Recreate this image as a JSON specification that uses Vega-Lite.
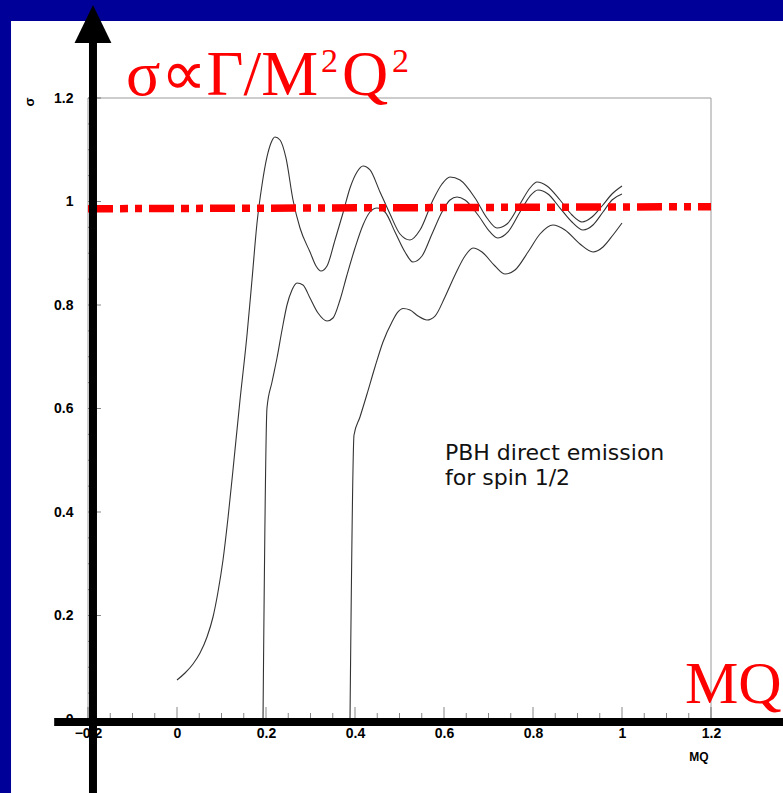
{
  "$schema": "https://vega.github.io/schema/vega-lite/v6.json",
  "width": 623,
  "height": 621,
  "autosize": "none",
  "padding": {"left": 88, "top": 98, "right": 72, "bottom": 74},
  "background": "#ffffff",
  "config": {
    "view": {"stroke": null},
    "axis": {"domain": false, "ticks": false, "grid": false, "labelFont": "Liberation Sans", "labelFontSize": 14, "labelFontWeight": "bold", "labelColor": "#000000", "labelOverlap": false, "labelFlush": false, "format": "~g"},
    "axisX": {"labelPadding": 7, "labelBaseline": "top"},
    "axisY": {"labelPadding": 15}
  },
  "datasets": {
    "curves": [
      {"series": "A", "x": 0.0, "y": 0.0754}, {"series": "A", "x": 0.018, "y": 0.0889}, {"series": "A", "x": 0.036, "y": 0.1063}, {"series": "A", "x": 0.0517, "y": 0.1275}, {"series": "A", "x": 0.0674, "y": 0.1585}, {"series": "A", "x": 0.0809, "y": 0.1971}, {"series": "A", "x": 0.0921, "y": 0.2454}, {"series": "A", "x": 0.1034, "y": 0.3072}, {"series": "A", "x": 0.1146, "y": 0.3884}, {"series": "A", "x": 0.1258, "y": 0.4812}, {"series": "A", "x": 0.1416, "y": 0.6164}, {"series": "A", "x": 0.1573, "y": 0.7420}, {"series": "A", "x": 0.1685, "y": 0.8483}, {"series": "A", "x": 0.1798, "y": 0.9585}, {"series": "A", "x": 0.191, "y": 1.0319}, {"series": "A", "x": 0.2022, "y": 1.086}, {"series": "A", "x": 0.2112, "y": 1.113}, {"series": "A", "x": 0.2202, "y": 1.1246}, {"series": "A", "x": 0.2315, "y": 1.1188}, {"series": "A", "x": 0.2449, "y": 1.0841}, {"series": "A", "x": 0.2607, "y": 1.0029}, {"series": "A", "x": 0.2764, "y": 0.9488}, {"series": "A", "x": 0.2989, "y": 0.9024}, {"series": "A", "x": 0.3124, "y": 0.8754}, {"series": "A", "x": 0.3236, "y": 0.8657}, {"series": "A", "x": 0.3371, "y": 0.8754}, {"series": "A", "x": 0.3551, "y": 0.9256}, {"series": "A", "x": 0.373, "y": 0.9778}, {"series": "A", "x": 0.3888, "y": 1.0261}, {"series": "A", "x": 0.4045, "y": 1.057}, {"series": "A", "x": 0.418, "y": 1.0686}, {"series": "A", "x": 0.4337, "y": 1.0609}, {"series": "A", "x": 0.4562, "y": 1.0184}, {"series": "A", "x": 0.4787, "y": 0.9758}, {"series": "A", "x": 0.5011, "y": 0.9372}, {"series": "A", "x": 0.5236, "y": 0.9256}, {"series": "A", "x": 0.5461, "y": 0.9449}, {"series": "A", "x": 0.5753, "y": 1.0029}, {"series": "A", "x": 0.5955, "y": 1.0338}, {"series": "A", "x": 0.6135, "y": 1.0473}, {"series": "A", "x": 0.636, "y": 1.0415}, {"series": "A", "x": 0.6697, "y": 1.0068}, {"series": "A", "x": 0.6966, "y": 0.9681}, {"series": "A", "x": 0.7191, "y": 0.9488}, {"series": "A", "x": 0.7416, "y": 0.9565}, {"series": "A", "x": 0.7708, "y": 0.9952}, {"series": "A", "x": 0.7933, "y": 1.0261}, {"series": "A", "x": 0.809, "y": 1.0377}, {"series": "A", "x": 0.8315, "y": 1.03}, {"series": "A", "x": 0.8607, "y": 1.0029}, {"series": "A", "x": 0.8876, "y": 0.9739}, {"series": "A", "x": 0.9101, "y": 0.9604}, {"series": "A", "x": 0.9326, "y": 0.97}, {"series": "A", "x": 0.9551, "y": 0.9913}, {"series": "A", "x": 0.9775, "y": 1.0145}, {"series": "A", "x": 1.0, "y": 1.03},
      {"series": "B", "x": 0.1933, "y": 0.0}, {"series": "B", "x": 0.2022, "y": 0.601}, {"series": "B", "x": 0.2135, "y": 0.6512}, {"series": "B", "x": 0.2247, "y": 0.6976}, {"series": "B", "x": 0.236, "y": 0.7517}, {"series": "B", "x": 0.2472, "y": 0.8000}, {"series": "B", "x": 0.2584, "y": 0.8290}, {"series": "B", "x": 0.2697, "y": 0.8425}, {"series": "B", "x": 0.2831, "y": 0.8386}, {"series": "B", "x": 0.2989, "y": 0.8135}, {"series": "B", "x": 0.3169, "y": 0.7845}, {"series": "B", "x": 0.3371, "y": 0.7691}, {"series": "B", "x": 0.3506, "y": 0.7749}, {"series": "B", "x": 0.3663, "y": 0.8097}, {"series": "B", "x": 0.382, "y": 0.858}, {"series": "B", "x": 0.4, "y": 0.9101}, {"series": "B", "x": 0.418, "y": 0.9546}, {"series": "B", "x": 0.4337, "y": 0.9797}, {"series": "B", "x": 0.4494, "y": 0.9874}, {"series": "B", "x": 0.4674, "y": 0.9797}, {"series": "B", "x": 0.4899, "y": 0.9411}, {"series": "B", "x": 0.5124, "y": 0.9024}, {"series": "B", "x": 0.5303, "y": 0.8831}, {"series": "B", "x": 0.5506, "y": 0.8947}, {"series": "B", "x": 0.573, "y": 0.9372}, {"series": "B", "x": 0.5955, "y": 0.9797}, {"series": "B", "x": 0.6135, "y": 1.0029}, {"series": "B", "x": 0.6292, "y": 1.0087}, {"series": "B", "x": 0.6472, "y": 1.0029}, {"series": "B", "x": 0.6764, "y": 0.9739}, {"series": "B", "x": 0.7034, "y": 0.9411}, {"series": "B", "x": 0.7213, "y": 0.9295}, {"series": "B", "x": 0.7438, "y": 0.9411}, {"series": "B", "x": 0.7708, "y": 0.9797}, {"series": "B", "x": 0.7933, "y": 1.0106}, {"series": "B", "x": 0.8112, "y": 1.0222}, {"series": "B", "x": 0.8337, "y": 1.0145}, {"series": "B", "x": 0.8607, "y": 0.9874}, {"series": "B", "x": 0.8876, "y": 0.9604}, {"series": "B", "x": 0.9124, "y": 0.9449}, {"series": "B", "x": 0.9348, "y": 0.9546}, {"series": "B", "x": 0.9573, "y": 0.9797}, {"series": "B", "x": 0.9775, "y": 1.0029}, {"series": "B", "x": 1.0, "y": 1.0145},
      {"series": "C", "x": 0.3888, "y": 0.0}, {"series": "C", "x": 0.3978, "y": 0.5488}, {"series": "C", "x": 0.4112, "y": 0.5836}, {"series": "C", "x": 0.427, "y": 0.6280}, {"series": "C", "x": 0.4449, "y": 0.6802}, {"series": "C", "x": 0.4629, "y": 0.7285}, {"series": "C", "x": 0.4831, "y": 0.7672}, {"series": "C", "x": 0.4966, "y": 0.7865}, {"series": "C", "x": 0.5079, "y": 0.7932}, {"series": "C", "x": 0.5236, "y": 0.7903}, {"series": "C", "x": 0.5416, "y": 0.7787}, {"series": "C", "x": 0.5618, "y": 0.771}, {"series": "C", "x": 0.5798, "y": 0.7787}, {"series": "C", "x": 0.6022, "y": 0.8155}, {"series": "C", "x": 0.6247, "y": 0.858}, {"series": "C", "x": 0.6472, "y": 0.8947}, {"series": "C", "x": 0.6652, "y": 0.9101}, {"series": "C", "x": 0.6854, "y": 0.9024}, {"series": "C", "x": 0.7146, "y": 0.8754}, {"series": "C", "x": 0.7371, "y": 0.8599}, {"series": "C", "x": 0.7596, "y": 0.8676}, {"series": "C", "x": 0.7888, "y": 0.9024}, {"series": "C", "x": 0.8157, "y": 0.9372}, {"series": "C", "x": 0.8449, "y": 0.9546}, {"series": "C", "x": 0.8719, "y": 0.9449}, {"series": "C", "x": 0.9056, "y": 0.9179}, {"series": "C", "x": 0.9348, "y": 0.9024}, {"series": "C", "x": 0.9573, "y": 0.9121}, {"series": "C", "x": 0.9798, "y": 0.9353}, {"series": "C", "x": 1.0, "y": 0.9585}
    ],
    "reference": [{"x": -0.2, "y": 0.986}, {"x": 1.2, "y": 0.99}],
    "xticks": [
      {"v": -0.2, "kind": "major"}, {"v": -0.15, "kind": "minor"}, {"v": -0.1, "kind": "minor"}, {"v": -0.05, "kind": "minor"},
      {"v": 0, "kind": "major"}, {"v": 0.05, "kind": "minor"}, {"v": 0.1, "kind": "minor"}, {"v": 0.15, "kind": "minor"},
      {"v": 0.2, "kind": "major"}, {"v": 0.25, "kind": "minor"}, {"v": 0.3, "kind": "minor"}, {"v": 0.35, "kind": "minor"},
      {"v": 0.4, "kind": "major"}, {"v": 0.45, "kind": "minor"}, {"v": 0.5, "kind": "minor"}, {"v": 0.55, "kind": "minor"},
      {"v": 0.6, "kind": "major"}, {"v": 0.65, "kind": "minor"}, {"v": 0.7, "kind": "minor"}, {"v": 0.75, "kind": "minor"},
      {"v": 0.8, "kind": "major"}, {"v": 0.85, "kind": "minor"}, {"v": 0.9, "kind": "minor"}, {"v": 0.95, "kind": "minor"},
      {"v": 1.0, "kind": "major"}, {"v": 1.05, "kind": "minor"}, {"v": 1.1, "kind": "minor"}, {"v": 1.15, "kind": "minor"},
      {"v": 1.2, "kind": "major"}
    ],
    "yticks": [
      {"v": 0, "kind": "major"}, {"v": 0.05, "kind": "minor"}, {"v": 0.1, "kind": "minor"}, {"v": 0.15, "kind": "minor"},
      {"v": 0.2, "kind": "major"}, {"v": 0.25, "kind": "minor"}, {"v": 0.3, "kind": "minor"}, {"v": 0.35, "kind": "minor"},
      {"v": 0.4, "kind": "major"}, {"v": 0.45, "kind": "minor"}, {"v": 0.5, "kind": "minor"}, {"v": 0.55, "kind": "minor"},
      {"v": 0.6, "kind": "major"}, {"v": 0.65, "kind": "minor"}, {"v": 0.7, "kind": "minor"}, {"v": 0.75, "kind": "minor"},
      {"v": 0.8, "kind": "major"}, {"v": 0.85, "kind": "minor"}, {"v": 0.9, "kind": "minor"}, {"v": 0.95, "kind": "minor"},
      {"v": 1.0, "kind": "major"}, {"v": 1.05, "kind": "minor"}, {"v": 1.1, "kind": "minor"}, {"v": 1.15, "kind": "minor"},
      {"v": 1.2, "kind": "major"}
    ]
  },
  "layer": [
    {
      "data": {"name": "curves"},
      "mark": {"type": "line", "interpolate": "monotone", "color": "#333333", "strokeWidth": 1.1},
      "encoding": {
        "x": {"field": "x", "type": "quantitative", "title": null, "scale": {"domain": [-0.2, 1.2], "nice": false, "zero": false},
              "axis": {"values": [-0.2, 0, 0.2, 0.4, 0.6, 0.8, 1, 1.2], "title": null, "format": "~g"}},
        "y": {"field": "y", "type": "quantitative", "title": null, "scale": {"domain": [0, 1.2], "nice": false, "zero": false},
              "axis": {"values": [0, 0.2, 0.4, 0.6, 0.8, 1, 1.2], "title": null, "format": "~g"}},
        "detail": {"field": "series", "type": "nominal"}
      }
    },
    {
      "data": {"values": [{}]},
      "mark": {"type": "rect", "fill": "#000099", "stroke": null},
      "encoding": {
        "x": {"datum": -0.42, "type": "quantitative", "title": null, "scale": {"domain": [-0.2, 1.2], "nice": false, "zero": false}},
        "x2": {"datum": 1.4},
        "y": {"datum": 1.349, "type": "quantitative", "title": null, "scale": {"domain": [0, 1.2], "nice": false, "zero": false}},
        "y2": {"datum": 1.42}
      }
    },
    {
      "data": {"values": [{}]},
      "mark": {"type": "rect", "fill": "#000099", "stroke": null},
      "encoding": {
        "x": {"datum": -0.42, "type": "quantitative", "title": null, "scale": {"domain": [-0.2, 1.2], "nice": false, "zero": false}},
        "x2": {"datum": -0.373},
        "y": {"datum": -0.16, "type": "quantitative", "title": null, "scale": {"domain": [0, 1.2], "nice": false, "zero": false}},
        "y2": {"datum": 1.42}
      }
    },
    {
      "data": {"values": [{}]},
      "mark": {"type": "rect", "fillOpacity": 0, "stroke": "#9a9a9a", "strokeWidth": 1},
      "encoding": {
        "x": {"datum": -0.2, "type": "quantitative", "title": null, "scale": {"domain": [-0.2, 1.2], "nice": false, "zero": false}},
        "x2": {"datum": 1.2},
        "y": {"datum": 0, "type": "quantitative", "title": null, "scale": {"domain": [0, 1.2], "nice": false, "zero": false}},
        "y2": {"datum": 1.2}
      }
    },
    {
      "data": {"name": "xticks"},
      "transform": [{"filter": "datum.kind === 'major'"}],
      "mark": {"type": "tick", "orient": "vertical", "size": 12, "thickness": 1, "color": "#555555", "yOffset": -6},
      "encoding": {
        "x": {"field": "v", "type": "quantitative", "title": null, "scale": {"domain": [-0.2, 1.2], "nice": false, "zero": false}},
        "y": {"datum": 0, "type": "quantitative", "title": null, "scale": {"domain": [0, 1.2], "nice": false, "zero": false}}
      }
    },
    {
      "data": {"name": "xticks"},
      "transform": [{"filter": "datum.kind === 'minor'"}],
      "mark": {"type": "tick", "orient": "vertical", "size": 6, "thickness": 1, "color": "#555555", "yOffset": -3},
      "encoding": {
        "x": {"field": "v", "type": "quantitative", "title": null, "scale": {"domain": [-0.2, 1.2], "nice": false, "zero": false}},
        "y": {"datum": 0, "type": "quantitative", "title": null, "scale": {"domain": [0, 1.2], "nice": false, "zero": false}}
      }
    },
    {
      "data": {"name": "yticks"},
      "transform": [{"filter": "datum.kind === 'major'"}],
      "mark": {"type": "tick", "orient": "horizontal", "size": 13, "thickness": 1, "color": "#555555", "xOffset": 6.5},
      "encoding": {
        "y": {"field": "v", "type": "quantitative", "title": null, "scale": {"domain": [0, 1.2], "nice": false, "zero": false}},
        "x": {"datum": -0.2, "type": "quantitative", "title": null, "scale": {"domain": [-0.2, 1.2], "nice": false, "zero": false}}
      }
    },
    {
      "data": {"name": "yticks"},
      "transform": [{"filter": "datum.kind === 'minor'"}],
      "mark": {"type": "tick", "orient": "horizontal", "size": 6, "thickness": 1, "color": "#555555", "xOffset": 3},
      "encoding": {
        "y": {"field": "v", "type": "quantitative", "title": null, "scale": {"domain": [0, 1.2], "nice": false, "zero": false}},
        "x": {"datum": -0.2, "type": "quantitative", "title": null, "scale": {"domain": [-0.2, 1.2], "nice": false, "zero": false}}
      }
    },
    {
      "data": {"name": "reference"},
      "mark": {"type": "line", "color": "#ff0000", "strokeWidth": 7.5, "strokeDash": [25, 7, 8, 7, 7, 7], "strokeCap": "butt"},
      "encoding": {
        "x": {"field": "x", "type": "quantitative", "title": null, "scale": {"domain": [-0.2, 1.2], "nice": false, "zero": false}},
        "y": {"field": "y", "type": "quantitative", "title": null, "scale": {"domain": [0, 1.2], "nice": false, "zero": false}}
      }
    },
    {
      "data": {"values": [{}]},
      "mark": {"type": "rule", "color": "#000000", "strokeWidth": 8, "strokeCap": "butt"},
      "encoding": {
        "x": {"datum": -0.276, "type": "quantitative", "title": null, "scale": {"domain": [-0.2, 1.2], "nice": false, "zero": false}},
        "x2": {"datum": 1.4},
        "y": {"datum": -0.0058, "type": "quantitative", "title": null, "scale": {"domain": [0, 1.2], "nice": false, "zero": false}}
      }
    },
    {
      "data": {"values": [{}]},
      "mark": {"type": "rule", "color": "#000000", "strokeWidth": 8, "strokeCap": "butt"},
      "encoding": {
        "x": {"datum": -0.1888, "type": "quantitative", "title": null, "scale": {"domain": [-0.2, 1.2], "nice": false, "zero": false}},
        "y": {"datum": -0.16, "type": "quantitative", "title": null, "scale": {"domain": [0, 1.2], "nice": false, "zero": false}},
        "y2": {"datum": 1.31}
      }
    },
    {
      "data": {"values": [{}]},
      "mark": {"type": "point", "shape": "M 0 -1 L 0.97 1 L -0.97 1 Z", "size": 1444, "filled": true, "color": "#000000", "opacity": 1},
      "encoding": {
        "x": {"datum": -0.1888, "type": "quantitative", "title": null, "scale": {"domain": [-0.2, 1.2], "nice": false, "zero": false}},
        "y": {"datum": 1.343, "type": "quantitative", "title": null, "scale": {"domain": [0, 1.2], "nice": false, "zero": false}}
      }
    },
    {
      "data": {"values": [{}]},
      "mark": {"type": "text", "text": "σ∝Γ/M", "font": "Liberation Serif", "fontSize": 64, "color": "#ff0000", "align": "left", "baseline": "alphabetic"},
      "encoding": {
        "x": {"datum": -0.1146, "type": "quantitative", "title": null, "scale": {"domain": [-0.2, 1.2], "nice": false, "zero": false}},
        "y": {"datum": 1.2058, "type": "quantitative", "title": null, "scale": {"domain": [0, 1.2], "nice": false, "zero": false}}
      }
    },
    {
      "data": {"values": [{}]},
      "mark": {"type": "text", "text": "2", "font": "Liberation Serif", "fontSize": 34, "color": "#ff0000", "align": "left", "baseline": "alphabetic"},
      "encoding": {
        "x": {"datum": 0.3236, "type": "quantitative", "title": null, "scale": {"domain": [-0.2, 1.2], "nice": false, "zero": false}},
        "y": {"datum": 1.2502, "type": "quantitative", "title": null, "scale": {"domain": [0, 1.2], "nice": false, "zero": false}}
      }
    },
    {
      "data": {"values": [{}]},
      "mark": {"type": "text", "text": "Q", "font": "Liberation Serif", "fontSize": 64, "color": "#ff0000", "align": "left", "baseline": "alphabetic"},
      "encoding": {
        "x": {"datum": 0.3708, "type": "quantitative", "title": null, "scale": {"domain": [-0.2, 1.2], "nice": false, "zero": false}},
        "y": {"datum": 1.2058, "type": "quantitative", "title": null, "scale": {"domain": [0, 1.2], "nice": false, "zero": false}}
      }
    },
    {
      "data": {"values": [{}]},
      "mark": {"type": "text", "text": "2", "font": "Liberation Serif", "fontSize": 34, "color": "#ff0000", "align": "left", "baseline": "alphabetic"},
      "encoding": {
        "x": {"datum": 0.4831, "type": "quantitative", "title": null, "scale": {"domain": [-0.2, 1.2], "nice": false, "zero": false}},
        "y": {"datum": 1.2502, "type": "quantitative", "title": null, "scale": {"domain": [0, 1.2], "nice": false, "zero": false}}
      }
    },
    {
      "data": {"values": [{}]},
      "mark": {"type": "text", "text": "MQ", "font": "Liberation Serif", "fontSize": 60, "color": "#ff0000", "align": "left", "baseline": "alphabetic"},
      "encoding": {
        "x": {"datum": 1.1416, "type": "quantitative", "title": null, "scale": {"domain": [-0.2, 1.2], "nice": false, "zero": false}},
        "y": {"datum": 0.0309, "type": "quantitative", "title": null, "scale": {"domain": [0, 1.2], "nice": false, "zero": false}}
      }
    },
    {
      "data": {"values": [{}]},
      "mark": {"type": "text", "text": ["PBH direct emission", "for spin 1/2"], "font": "DejaVu Sans", "fontSize": 22, "lineHeight": 25, "color": "#111111", "align": "left", "baseline": "alphabetic"},
      "encoding": {
        "x": {"datum": 0.6022, "type": "quantitative", "title": null, "scale": {"domain": [-0.2, 1.2], "nice": false, "zero": false}},
        "y": {"datum": 0.5005, "type": "quantitative", "title": null, "scale": {"domain": [0, 1.2], "nice": false, "zero": false}}
      }
    },
    {
      "data": {"values": [{}]},
      "mark": {"type": "text", "text": "MQ", "font": "Liberation Sans", "fontSize": 12, "fontWeight": "bold", "color": "#000000", "align": "center", "baseline": "alphabetic"},
      "encoding": {
        "x": {"datum": 1.173, "type": "quantitative", "title": null, "scale": {"domain": [-0.2, 1.2], "nice": false, "zero": false}},
        "y": {"datum": -0.0812, "type": "quantitative", "title": null, "scale": {"domain": [0, 1.2], "nice": false, "zero": false}}
      }
    },
    {
      "data": {"values": [{}]},
      "mark": {"type": "text", "text": "σ", "font": "Liberation Sans", "fontSize": 13, "fontWeight": "bold", "color": "#000000", "align": "center", "baseline": "middle", "angle": 270},
      "encoding": {
        "x": {"datum": -0.33, "type": "quantitative", "title": null, "scale": {"domain": [-0.2, 1.2], "nice": false, "zero": false}},
        "y": {"datum": 1.192, "type": "quantitative", "title": null, "scale": {"domain": [0, 1.2], "nice": false, "zero": false}}
      }
    }
  ]
}
